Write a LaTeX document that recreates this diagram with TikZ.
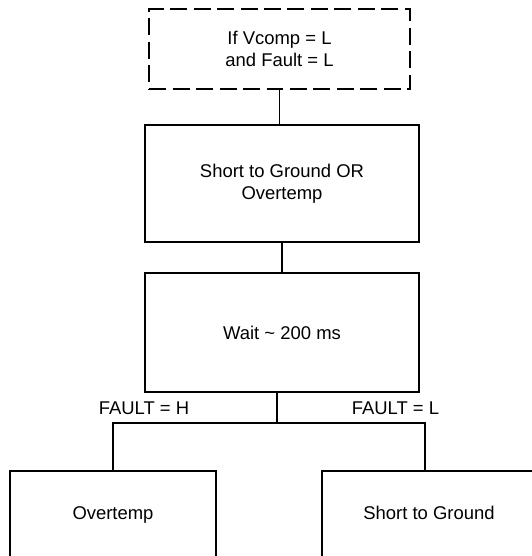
\documentclass[tikz,border=0pt]{standalone}
\usepackage{fontspec}
\setmainfont{Liberation Sans}
\usepackage{tikz}
\usetikzlibrary{positioning}
\tikzset{box/.style={draw, line width=0.9pt, align=center, inner sep=0pt,
    font=\fontsize{10.5}{12.6}\selectfont}}
\tikzset{leafbox/.style={box, text height=0.72em, text depth=0.2em,
    minimum width=4.13cm, minimum height=1.76cm}}
\tikzset{condbox/.style={box, dash pattern=on 0.34cm off 0.13cm}}
\tikzset{wire/.style={line width=0.6pt}}
\tikzset{cond/.style={font=\fontsize{10.5}{12.6}\selectfont}}

\begin{document}
\begin{tikzpicture}[x=0.02cm, y=-0.02cm]
    \clip (0, 0) rectangle (532, 556);
    \useasboundingbox (0, 0) rectangle (532, 556);

    \node[condbox, minimum width=5.22cm, minimum height=1.6cm] (check) at (279.5, 49) {If Vcomp = L\\and Fault = L};
    \node[box, minimum width=5.48cm, minimum height=2.34cm] (either) at (282, 183.5) {Short to Ground OR\\Overtemp};
    \node[box, minimum width=5.48cm, minimum height=2.38cm] (wait) at (282, 332.5) {Wait \textasciitilde{} 200 ms};
    \node[leafbox] (otemp) at (113, 515) {Overtemp};
    \node[leafbox, minimum width=4.28cm] (sgnd) at (429, 515) {Short to Ground};

    \coordinate (fork) at (277, 423);
    \coordinate (sgin) at (425, 471);

    \node[cond] (fhigh) at (144, 408) {FAULT = H};
    \node[cond] (flow) at (395.5, 408) {FAULT = L};

    \draw[wire] (check.south) -- (check.south |- either.north);
    \draw[wire] (either.south) -- (wait.north);
    \draw[wire] (fork |- wait.south) -- (fork);
    \draw[wire] (otemp.north) |- (fork);
    \draw[wire] (fork) -| (sgin);
\end{tikzpicture}
\end{document}
